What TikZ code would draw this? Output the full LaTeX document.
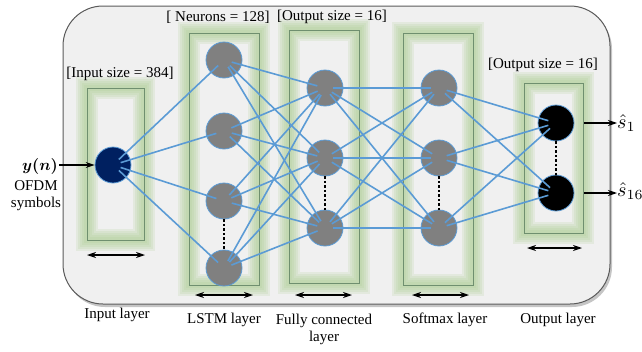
\documentclass[tikz,border=0pt]{standalone}
\usepackage{amsmath}
\usepackage{fontspec}
\setmainfont{Liberation Serif}
\usetikzlibrary{arrows.meta}
\definecolor{bgc}{HTML}{F0F0F0}
\definecolor{bgborder}{HTML}{5A5A5A}
\definecolor{conncol}{HTML}{5B9BD5}
\definecolor{glowc}{HTML}{A9CD8E}
\definecolor{boxc}{HTML}{6F8F6F}
\definecolor{navy}{HTML}{002060}
\definecolor{neurgray}{HTML}{808080}
\newcommand{\glowbox}[4]{%
  \foreach \w in {22,18,14,10,6} {\draw[glowc, opacity=0.18, line width=\w pt] (#1,#2) rectangle (#3,#4);}
  \draw[boxc, line width=1pt] (#1,#2) rectangle (#3,#4);}
\begin{document}
\begin{tikzpicture}[x=1pt,y=-1pt,
  neuron/.style={circle, minimum size=36pt, inner sep=0pt, fill=neurgray, draw=conncol, line width=0.8pt},
  inneuron/.style={neuron, fill=navy},
  outneuron/.style={neuron, fill=black},
  conn/.style={conncol, line width=1.6pt, shorten <=8pt, shorten >=8pt},
  dotsline/.style={black, line width=2pt, dash pattern=on 2.5pt off 2pt},
  widtharrow/.style={{Stealth[length=9pt,width=6pt]}-{Stealth[length=9pt,width=6pt]}, black, line width=1.1pt},
  outarrow/.style={-{Stealth[length=9pt,width=6pt]}, black, line width=1.1pt},
  lbl/.style={font=\fontsize{15}{17}\selectfont, inner sep=0pt, align=center},
  mathlbl/.style={font=\normalsize, inner sep=0pt}
]
\useasboundingbox (0,0) rectangle (642,351);
% background panel
\fill[black!45, opacity=0.5, rounded corners=40pt] (65,9) rectangle (612,307);
\draw[fill=bgc, draw=bgborder, line width=1pt, rounded corners=40pt] (63,6) rectangle (610,304);

% layer boxes
\glowbox{87}{88}{144}{240}
\glowbox{189}{33}{259}{285}
\glowbox{289}{30}{359}{283}
\glowbox{403}{33}{473}{285}
\glowbox{524}{83}{583}{233}

% neurons
\node[inneuron] (in) at (113,165) {};
\node[neuron] (l1) at (224,60) {};
\node[neuron] (l2) at (224,131) {};
\node[neuron] (l3) at (224,201) {};
\node[neuron] (l4) at (224,268) {};
\node[neuron] (f1) at (325,88) {};
\node[neuron] (f2) at (325,158) {};
\node[neuron] (f3) at (325,228) {};
\node[neuron] (s1) at (439,88) {};
\node[neuron] (s2) at (439,158) {};
\node[neuron] (s3) at (439,228) {};
\node[outneuron] (o1) at (556,123) {};
\node[outneuron] (o2) at (556,193) {};

% dotted
\draw[dotsline] (l3) -- (l4);
\draw[dotsline] (f2) -- (f3);
\draw[dotsline] (s2) -- (s3);
\draw[dotsline] (o1) -- (o2);

% connections
\foreach \b in {l1,l2,l3,l4} \draw[conn] (in.center) -- (\b.center);
\foreach \a in {l1,l2,l3,l4} \foreach \b in {f1,f2,f3} \draw[conn] (\a.center) -- (\b.center);
\foreach \a in {f1,f2,f3} \foreach \b in {s1,s2,s3} \draw[conn] (\a.center) -- (\b.center);
\foreach \a in {s1,s2,s3} \foreach \b in {o1,o2} \draw[conn] (\a.center) -- (\b.center);

% width arrows
\coordinate (wa1) at (87,255); \coordinate (wa2) at (145,255);
\coordinate (wb1) at (195,295); \coordinate (wb2) at (253,295);
\coordinate (wc1) at (295,295); \coordinate (wc2) at (352,295);
\coordinate (wd1) at (412,295); \coordinate (wd2) at (469,295);
\coordinate (we1) at (527,248); \coordinate (we2) at (582,248);
\draw[widtharrow] (wa1) -- (wa2);
\draw[widtharrow] (wb1) -- (wb2);
\draw[widtharrow] (wc1) -- (wc2);
\draw[widtharrow] (wd1) -- (wd2);
\draw[widtharrow] (we1) -- (we2);

% input / output
\node[mathlbl] (yn) at (40,166) {\scalebox{1.6}{$\boldsymbol{y}\boldsymbol{(}\boldsymbol{n}\boldsymbol{)}$}};
\node[lbl] (ofdm) at (36,196) {OFDM\\symbols};
\coordinate (ys) at (59,165);
\draw[outarrow] (ys) -- (in.west);
\coordinate (oa1) at (584,123);
\coordinate (oa2) at (584,193);
\node[mathlbl, anchor=west] (hs1) at (617,123) {\scalebox{2}{$\hat{s}_1$}};
\node[mathlbl, anchor=west] (hs2) at (617,191) {\scalebox{2}{$\hat{s}_{16}$}};
\draw[outarrow] (oa1) -- (hs1.west |- oa1);
\draw[outarrow] (oa2) -- (hs2.west |- oa2);

% top labels
\node[lbl] (t1) at (120,74) {[Input size = 384]};
\node[lbl] (t2) at (218,17) {[ Neurons = 128]};
\node[lbl] (t3) at (332,17) {[Output size = 16]};
\node[lbl] (t4) at (543,65) {[Output size = 16]};

% bottom labels
\node[lbl] (b1) at (117,315) {Input layer};
\node[lbl] (b2) at (224,320) {LSTM layer};
\node[lbl] (b3) at (324,329) {Fully connected\\layer};
\node[lbl] (b4) at (445,320) {Softmax layer};
\node[lbl] (b5) at (558,320) {Output layer};
\end{tikzpicture}
\end{document}
